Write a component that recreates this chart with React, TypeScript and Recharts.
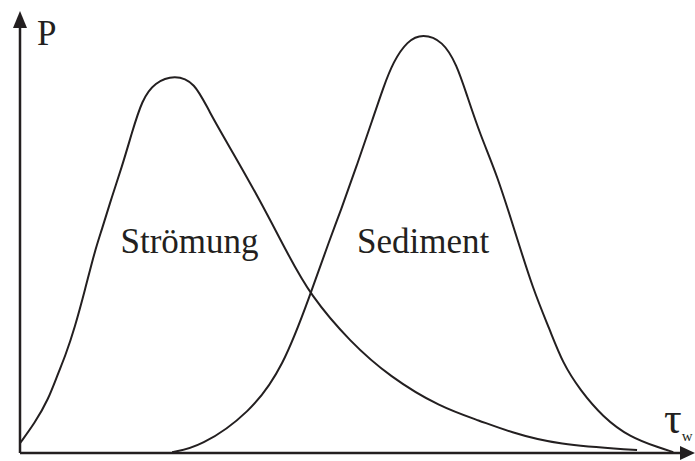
import { LineChart, Line, XAxis, YAxis, ReferenceDot, ReferenceLine } from "recharts";

// Shear stress positions (x) and probability density (P) for each curve
const stroemungX = [0, 2.2, 4.2, 5.7, 6.7, 8.2, 9.7, 11.2, 12.2, 13.7, 15.2, 16.7, 18.2, 20.1, 23.1, 26.1, 28.1, 31.8, 35.8, 39.9, 43.3, 49.3, 55.2, 62.7, 68.7, 73.1, 80.1, 92.1];
const stroemungP = [2.3, 7.0, 12.4, 18.7, 22.4, 29.4, 38.1, 47.4, 52.1, 59.8, 66.8, 74.8, 82.5, 86.6, 88.4, 86.6, 80.1, 70.1, 59.1, 46.7, 36.9, 25.9, 17.8, 10.7, 7.5, 4.9, 1.9, 0.7];

const sedimentX = [22.7, 26.9, 34.3, 39.3, 43.3, 46.3, 47.8, 50.3, 52.7, 54.2, 55.7, 57.8, 60.1, 63.1, 65.2, 66.7, 68.7, 71.2, 73.9, 76.6, 79.1, 81.0, 83.6, 87.0, 91.0, 95.5, 97.5];
const sedimentP = [0.2, 1.4, 9.3, 20.1, 36.9, 50.2, 56.3, 67.3, 78.3, 85.3, 91.4, 96.3, 98.0, 96.3, 90.7, 83.6, 74.3, 65.0, 51.6, 38.1, 28.7, 21.0, 14.7, 8.4, 3.7, 1.2, 0.2];

const curveLabels = ["Strömung", "Sediment"];

const INK = "#231f20";
const FONT = '"Liberation Serif", "Times New Roman", serif';

const stroemung = stroemungX.map((x, i) => ({ x, p: stroemungP[i] }));
const sediment = sedimentX.map((x, i) => ({ x, p: sedimentP[i] }));

// eslint-disable-next-line @typescript-eslint/no-explicit-any
const ArrowUp = ({ cx, cy }: any) => (
  <polygon points={`${cx},${cy - 14} ${cx - 7},${cy + 3} ${cx + 7},${cy + 3}`} fill={INK} />
);

// eslint-disable-next-line @typescript-eslint/no-explicit-any
const ArrowRight = ({ cx, cy }: any) => (
  <polygon points={`${cx + 5},${cy} ${cx - 10},${cy - 7} ${cx - 10},${cy + 7}`} fill={INK} />
);

const makeTag =
  (text: string, dx: number, dy: number, size = 35) =>
  // eslint-disable-next-line @typescript-eslint/no-explicit-any
  ({ cx, cy }: any) => (
    <text x={cx + dx} y={cy + dy} fill={INK} fontFamily={FONT} fontSize={size}>
      {text}
    </text>
  );

// eslint-disable-next-line @typescript-eslint/no-explicit-any
const TauLabel = ({ cx, cy }: any) => (
  <text x={cx - 26} y={cy - 20} fill={INK} fontFamily={FONT} fontSize={44}>
    τ<tspan fontSize={15} dy={8}>w</tspan>
  </text>
);

const App = () => {
  return (
    <div style={{ position: "absolute", left: 0, top: 0, background: "#fff" }}>
      <LineChart
        width={695}
        height={461}
        margin={{ top: 25, right: 5, bottom: 8, left: 20 }}
      >
        <XAxis type="number" dataKey="x" domain={[0, 100]} hide allowDataOverflow />
        <YAxis type="number" dataKey="p" domain={[0, 100]} hide allowDataOverflow />
        <ReferenceLine x={0} stroke={INK} strokeWidth={2.5} />
        <ReferenceLine y={0} stroke={INK} strokeWidth={2.5} />
        <Line
          data={stroemung}
          dataKey="p"
          type="basis"
          stroke={INK}
          strokeWidth={2}
          dot={false}
          isAnimationActive={false}
        />
        <Line
          data={sediment}
          dataKey="p"
          type="basis"
          stroke={INK}
          strokeWidth={2}
          dot={false}
          isAnimationActive={false}
        />
        <ReferenceDot x={0} y={100} r={0} shape={ArrowUp} ifOverflow="visible" />
        <ReferenceDot x={100} y={0} r={0} shape={ArrowRight} ifOverflow="visible" />
        <ReferenceDot x={0} y={100} r={0} shape={makeTag("P", 17, 20)} ifOverflow="visible" />
        <ReferenceDot x={100} y={0} r={0} shape={TauLabel} ifOverflow="visible" />
        <ReferenceDot x={15} y={46.7} r={0} shape={makeTag(curveLabels[0], 0, 0)} ifOverflow="visible" />
        <ReferenceDot x={50.3} y={46.7} r={0} shape={makeTag(curveLabels[1], 0, 0)} ifOverflow="visible" />
      </LineChart>
    </div>
  );
};

export default App;
